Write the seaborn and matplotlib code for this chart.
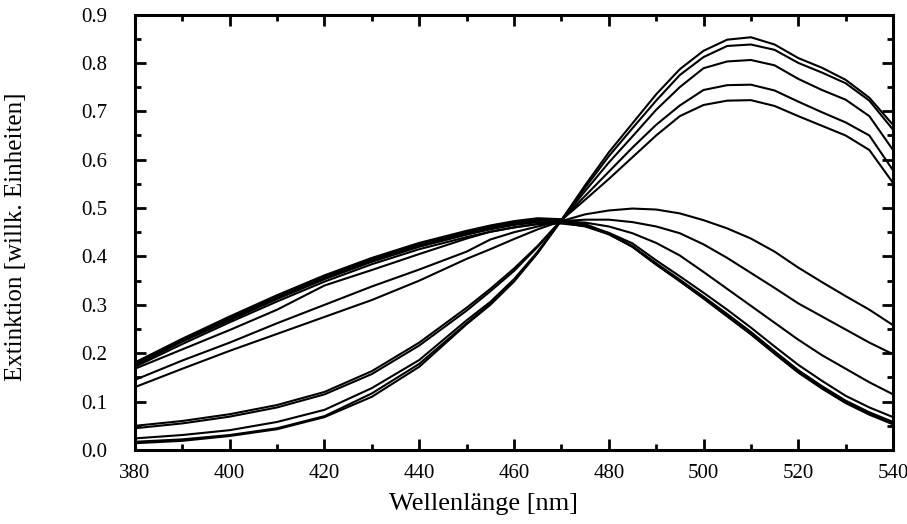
import matplotlib
matplotlib.use("Agg")
import matplotlib.pyplot as plt
import numpy as np
import pandas as pd
import seaborn as sns
from matplotlib.ticker import MultipleLocator, FormatStrFormatter

# wavelength grid [nm]
wavelength = [380, 390, 400, 410, 420, 430, 440, 450, 455, 460, 465, 470, 475,
              480, 485, 490, 495, 500, 505, 510, 515, 520, 525, 530, 535, 540]

# acid-form spectra (peak ~465 nm)
acid_1 = [.181, .230, .276, .320, .361, .397, .428, .453, .464, .473, .479, .477, .467,
          .448, .421, .384, .349, .313, .276, .239, .199, .160, .127, .097, .073, .053]
acid_2 = [.179, .228, .273, .317, .358, .394, .425, .450, .461, .470, .476, .475, .465,
          .447, .420, .383, .349, .314, .277, .240, .200, .161, .128, .099, .075, .055]
acid_3 = [.177, .226, .271, .315, .356, .392, .423, .448, .459, .468, .474, .473, .464,
          .446, .420, .384, .350, .315, .278, .242, .202, .163, .130, .100, .076, .056]
acid_4 = [.175, .224, .268, .312, .353, .389, .420, .445, .456, .465, .471, .470, .462,
          .446, .421, .386, .352, .317, .281, .244, .204, .165, .132, .102, .078, .058]
acid_5 = [.172, .219, .264, .307, .348, .384, .415, .440, .451, .460, .467, .468, .463,
          .449, .427, .392, .359, .325, .290, .253, .214, .176, .143, .112, .088, .068]

# intermediate spectra
mid_1 = [.168, .208, .248, .290, .340, .372, .405, .437, .451, .460, .467, .472, .470,
         .462, .448, .428, .402, .368, .333, .298, .263, .228, .196, .168, .140, .115]
mid_2 = [.145, .185, .222, .262, .300, .338, .373, .410, .435, .450, .462, .473, .476,
         .476, .471, .462, .448, .425, .397, .366, .335, .303, .276, .249, .222, .198]
mid_3 = [.130, .168, .205, .240, .275, .310, .350, .395, .415, .436, .456, .473, .487,
         .495, .499, .497, .489, .475, .458, .437, .410, .377, .347, .318, .290, .258]

# base-form spectra (peak ~507 nm)
base_1 = [.014, .019, .029, .043, .068, .110, .172, .260, .300, .348, .407, .475, .547,
          .615, .675, .735, .787, .825, .848, .853, .838, .810, .790, .765, .728, .672]
base_2 = [.017, .022, .031, .045, .070, .117, .178, .262, .302, .350, .408, .475, .542,
          .607, .665, .722, .775, .812, .835, .838, .827, .800, .780, .758, .722, .662]
base_3 = [.024, .031, .041, .058, .083, .128, .186, .268, .306, .353, .410, .475, .535,
          .594, .648, .703, .750, .789, .803, .806, .795, .767, .744, .724, .690, .620]
base_4 = [.045, .055, .069, .088, .115, .157, .216, .288, .328, .370, .420, .475, .525,
          .575, .625, .672, .712, .744, .754, .755, .743, .720, .698, .677, .650, .578]
base_5 = [.050, .060, .074, .093, .120, .163, .222, .294, .333, .375, .422, .475, .517,
          .560, .605, .650, .690, .713, .722, .723, .711, .690, .670, .650, .620, .552]

curves = {
    "acid_1": acid_1, "acid_2": acid_2, "acid_3": acid_3, "acid_4": acid_4, "acid_5": acid_5,
    "mid_1": mid_1, "mid_2": mid_2, "mid_3": mid_3,
    "base_1": base_1, "base_2": base_2, "base_3": base_3, "base_4": base_4, "base_5": base_5,
}

df = pd.concat(
    [pd.DataFrame({"wl": wavelength, "ext": vals, "curve": name}) for name, vals in curves.items()],
    ignore_index=True,
)

sns.set_theme(style="ticks")
plt.rcParams["font.family"] = ["Liberation Serif", "DejaVu Serif"]

fig = plt.figure(figsize=(9.07, 5.24), dpi=100)
ax = fig.add_axes([0.1488, 0.1412, 0.8358, 0.8311])

sns.lineplot(data=df, x="wl", y="ext", units="curve", estimator=None,
             color="black", linewidth=1.5, ax=ax, legend=False)

ax.set_xlim(380, 540)
ax.set_ylim(0.0, 0.9)
ax.xaxis.set_major_locator(MultipleLocator(20))
ax.xaxis.set_minor_locator(MultipleLocator(10))
ax.yaxis.set_major_locator(MultipleLocator(0.1))
ax.yaxis.set_minor_locator(MultipleLocator(0.05))
ax.yaxis.set_major_formatter(FormatStrFormatter("%.1f"))

for s in ax.spines.values():
    s.set_visible(True)
    s.set_linewidth(2.2)
    s.set_color("black")

ax.tick_params(which="both", direction="in", top=True, right=True, color="black")
ax.tick_params(which="major", length=8, width=2.0, labelsize=15, labelcolor="black")
ax.tick_params(which="minor", length=4.5, width=2.0)
ax.tick_params(axis="y", which="major", pad=20)
ax.tick_params(axis="x", which="major", pad=10)

ax.set_xlabel("Wellenlänge [nm]", fontsize=19, color="black")
ax.set_ylabel("Extinktion [willk. Einheiten]", fontsize=18, color="black")
ax.xaxis.set_label_coords(0.460, -0.098)
ax.yaxis.set_label_coords(-0.142, 0.49)
ax.grid(False)

fig.savefig("out.png", dpi=100)
